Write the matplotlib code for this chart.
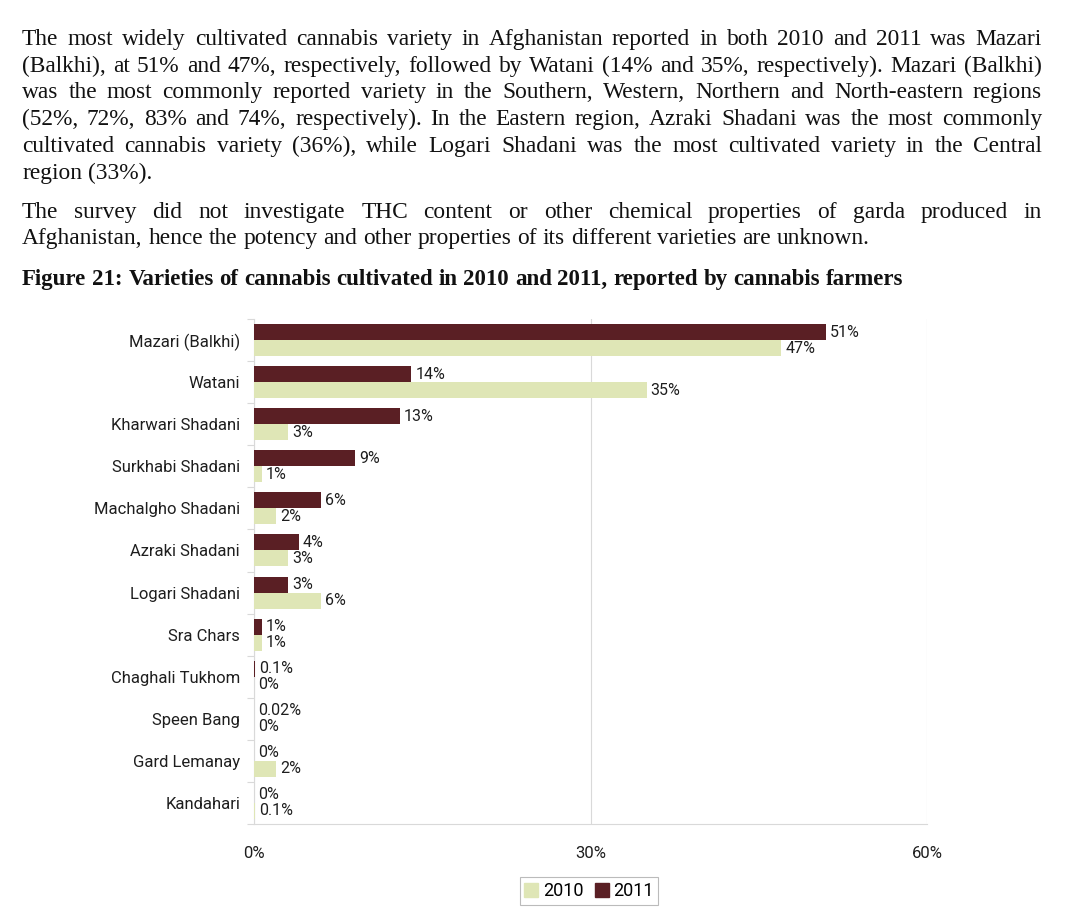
import matplotlib
matplotlib.use("Agg")
import matplotlib.pyplot as plt
from matplotlib.lines import Line2D
import numpy as np

# ---------------- data ----------------
categories = ["Mazari (Balkhi)", "Watani", "Kharwari Shadani", "Surkhabi Shadani",
              "Machalgho Shadani", "Azraki Shadani", "Logari Shadani", "Sra Chars",
              "Chaghali Tukhom", "Speen Bang", "Gard Lemanay", "Kandahari"]
values_2011 = [51, 14, 13, 9, 6, 4, 3, 0.7, 0.1, 0.02, 0, 0]
values_2010 = [47, 35, 3, 0.7, 2, 3, 6, 0.7, 0, 0, 2, 0.1]
labels_2011 = ["51%", "14%", "13%", "9%", "6%", "4%", "3%", "1%", "0.1%", "0.02%", "0%", "0%"]
labels_2010 = ["47%", "35%", "3%", "1%", "2%", "3%", "6%", "1%", "0%", "0%", "2%", "0.1%"]
xticks = [0, 30, 60]
xtick_labels = ["0%", "30%", "60%"]

paragraph1 = [
    "The most widely cultivated cannabis variety in Afghanistan reported in both 2010 and 2011 was Mazari",
    "(Balkhi), at 51% and 47%, respectively, followed by Watani (14% and 35%, respectively). Mazari (Balkhi)",
    "was the most commonly reported variety in the Southern, Western, Northern and North-eastern regions",
    "(52%, 72%, 83% and 74%, respectively). In the Eastern region, Azraki Shadani was the most commonly",
    "cultivated cannabis variety (36%), while Logari Shadani was the most cultivated variety in the Central",
    "region (33%).",
]
paragraph2 = [
    "The survey did not investigate THC content or other chemical properties of garda produced in",
    "Afghanistan, hence the potency and other properties of its different varieties are unknown.",
]
title = "Figure 21: Varieties of cannabis cultivated in 2010 and 2011, reported by cannabis farmers"

# ---------------- style ----------------
W, H = 1080, 911
C2011 = "#5a1f24"
C2010 = "#dfe6b6"
GRID = "#d9d9d9"
TXT = "#1e1e1e"
chart_font = "Roboto"
serif = "Liberation Serif"

fig = plt.figure(figsize=(W / 100, H / 100), dpi=100)
fig.patch.set_facecolor("white")
renderer = fig.canvas.get_renderer()

LEFT_PX, RIGHT_PX = 22, 1042


def place_line(line, base_px, justify, size=16.8, weight="normal"):
    words = line.split(" ")
    texts = [fig.text(0, 1 - base_px / H, w, fontsize=size, family=serif,
                      weight=weight, color="#111111", va="baseline", ha="left")
             for w in words]
    widths = [t.get_window_extent(renderer).width for t in texts]
    t1 = fig.text(0, 0, "a a", fontsize=size, family=serif, weight=weight)
    t2 = fig.text(0, 0, "aa", fontsize=size, family=serif, weight=weight)
    space = t1.get_window_extent(renderer).width - t2.get_window_extent(renderer).width
    t1.remove(); t2.remove()
    if justify and len(words) > 1:
        gap = (RIGHT_PX - LEFT_PX - sum(widths)) / (len(words) - 1)
    else:
        gap = space
    x = LEFT_PX
    for t, w in zip(texts, widths):
        t.set_x(x / W)
        x += w + gap


p1_base = [45, 72, 98, 125, 152, 179]
for i, ln in enumerate(paragraph1):
    place_line(ln, p1_base[i], justify=(i < len(paragraph1) - 1))
p2_base = [218, 244]
for i, ln in enumerate(paragraph2):
    place_line(ln, p2_base[i], justify=(i < len(paragraph2) - 1))
place_line(title, 285, justify=False, size=16.5, weight="bold")

# ---------------- chart ----------------
ax_l, ax_r, ax_t, ax_b = 254, 927, 319, 824
ax = fig.add_axes([ax_l / W, 1 - ax_b / H, (ax_r - ax_l) / W, (ax_b - ax_t) / H])

n = len(categories)
y = np.arange(n)
bh = 0.38
ax.barh(y - bh / 2, values_2011, height=bh, color=C2011, linewidth=0,
        label="2011", zorder=3)
ax.barh(y + bh / 2, values_2010, height=bh, color=C2010, linewidth=0,
        label="2010", zorder=3)

for yi, v, lab in zip(y, values_2011, labels_2011):
    ax.annotate(lab, (v, yi - bh / 2), xytext=(3, 0), textcoords="offset points",
                va="center", ha="left", fontsize=11.5, family=chart_font, color=TXT)
for yi, v, lab in zip(y, values_2010, labels_2010):
    ax.annotate(lab, (v, yi + bh / 2), xytext=(3, 0), textcoords="offset points",
                va="center", ha="left", fontsize=11.5, family=chart_font, color=TXT)

ax.set_ylim(n - 0.5, -0.5)
ax.set_xlim(0, 60)
ax.set_yticks(y)
ax.set_yticklabels(categories, fontsize=12, family=chart_font, color=TXT)
ax.set_yticks(np.arange(n + 1) - 0.5, minor=True)
ax.tick_params(axis="y", which="major", length=0, pad=10)
ax.tick_params(axis="y", which="minor", length=5, color=GRID, width=0.8)
ax.set_xticks(xticks)
ax.set_xticklabels(xtick_labels, fontsize=12, family=chart_font, color=TXT)
ax.tick_params(axis="x", length=0, pad=16)
ax.xaxis.grid(True, color=GRID, linewidth=0.8, zorder=0)
ax.set_axisbelow(True)
for s in ["top", "right"]:
    ax.spines[s].set_visible(False)
for s in ["left", "bottom"]:
    ax.spines[s].set_color(GRID)
    ax.spines[s].set_linewidth(0.8)

handles = [Line2D([], [], marker="s", linestyle="none", markersize=10,
                  markerfacecolor=C2010, markeredgecolor=C2010),
           Line2D([], [], marker="s", linestyle="none", markersize=10,
                  markerfacecolor=C2011, markeredgecolor=C2011)]
leg = fig.legend(handles, ["2010", "2011"], loc="center",
                 bbox_to_anchor=(589 / W, 1 - 891 / H), ncol=2, frameon=True,
                 fancybox=False, edgecolor="#aaaaaa", handlelength=0.8,
                 handletextpad=0.25, columnspacing=0.6, borderpad=0.25,
                 prop={"family": chart_font, "size": 13})
leg.get_frame().set_linewidth(0.8)

fig.savefig("out.png", dpi=100, facecolor="white")
